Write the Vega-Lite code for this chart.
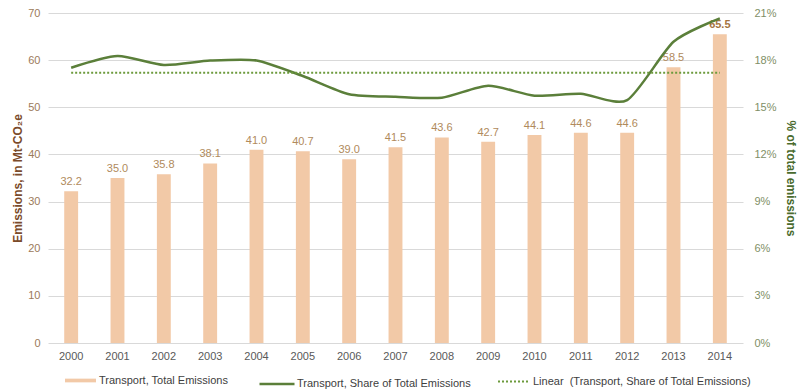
{
  "$schema": "https://vega.github.io/schema/vega-lite/v6.json",
  "width": 695,
  "height": 330,
  "autosize": {"type": "none"},
  "padding": {"left": 48, "right": 57, "top": 13, "bottom": 49},
  "config": {
    "font": "Liberation Sans",
    "view": {"stroke": null},
    "axis": {"labelFont": "Liberation Sans", "titleFont": "Liberation Sans"},
    "legend": {"labelFont": "Liberation Sans", "labelFontSize": 11, "labelColor": "#404040", "padding": 0, "labelLimit": 400}
  },
  "data": {
    "values": [
      {"year": "2000", "emissions": 32.2, "share": 17.52, "trend": 17.2},
      {"year": "2001", "emissions": 35.0, "share": 18.26, "trend": 17.2},
      {"year": "2002", "emissions": 35.8, "share": 17.69, "trend": 17.2},
      {"year": "2003", "emissions": 38.1, "share": 17.97, "trend": 17.2},
      {"year": "2004", "emissions": 41.0, "share": 17.98, "trend": 17.2},
      {"year": "2005", "emissions": 40.7, "share": 16.99, "trend": 17.2},
      {"year": "2006", "emissions": 39.0, "share": 15.83, "trend": 17.2},
      {"year": "2007", "emissions": 41.5, "share": 15.67, "trend": 17.2},
      {"year": "2008", "emissions": 43.6, "share": 15.61, "trend": 17.2},
      {"year": "2009", "emissions": 42.7, "share": 16.37, "trend": 17.2},
      {"year": "2010", "emissions": 44.1, "share": 15.74, "trend": 17.2},
      {"year": "2011", "emissions": 44.6, "share": 15.86, "trend": 17.2},
      {"year": "2012", "emissions": 44.6, "share": 15.46, "trend": 17.2},
      {"year": "2013", "emissions": 58.5, "share": 19.17, "trend": 17.2},
      {"year": "2014", "emissions": 65.5, "share": 20.66, "trend": 17.2}
    ]
  },
  "encoding": {
    "x": {
      "field": "year", "type": "ordinal",
      "scale": {"paddingInner": 0.7, "paddingOuter": 0.35},
      "axis": {"title": null, "labelAngle": 0, "ticks": false, "domain": false, "labelColor": "#595959", "labelFontSize": 11, "labelPadding": 7}
    }
  },
  "layer": [
    {
      "encoding": {
        "y": {
          "field": "emissions", "type": "quantitative",
          "scale": {"domain": [0, 70], "nice": false},
          "axis": {
            "title": "Emissions, in Mt-CO₂e", "titleColor": "#7b4b2a", "titleFontSize": 12, "titleFontWeight": "bold", "titlePadding": 3,
            "values": [0, 10, 20, 30, 40, 50, 60, 70], "ticks": false, "domain": false,
            "labelColor": "#9c7a5a", "labelFontSize": 11, "labelPadding": 8,
            "grid": true, "gridColor": "#d9d9d9", "gridWidth": 1
          }
        }
      },
      "layer": [
        {
          "mark": {"type": "bar", "color": "#f2c9a7"},
          "encoding": {
            "fill": {
              "datum": "Transport, Total Emissions",
              "scale": {"range": ["#f2c9a7"]},
              "legend": {
                "title": null, "orient": "none", "legendX": 17, "legendY": 352,
                "symbolType": "M-1,-0.12H1V0.12H-1Z", "symbolSize": 961, "symbolStrokeWidth": 0, "labelOffset": 3
              }
            }
          }
        },
        {
          "transform": [{"filter": "datum.year != '2014'"}],
          "mark": {"type": "text", "dy": -9, "color": "#b08a5c", "fontSize": 11},
          "encoding": {"text": {"field": "emissions", "type": "quantitative", "format": ".1f"}}
        },
        {
          "transform": [{"filter": "datum.year == '2014'"}],
          "mark": {"type": "text", "dy": -9, "color": "#a5743f", "fontSize": 11, "fontWeight": "bold"},
          "encoding": {"text": {"field": "emissions", "type": "quantitative", "format": ".1f"}}
        }
      ]
    },
    {
      "layer": [
        {
          "mark": {"type": "line", "interpolate": "cardinal", "tension": 0.3, "strokeWidth": 2.5},
          "encoding": {
            "y": {
              "field": "share", "type": "quantitative",
              "scale": {"domain": [0, 21], "nice": false},
              "axis": {
                "orient": "right", "title": "% of total emissions", "titleColor": "#4a6b2e", "titleFontSize": 12, "titleFontWeight": "bold", "titlePadding": 7,
                "values": [0, 3, 6, 9, 12, 15, 18, 21], "labelExpr": "datum.value + '%'",
                "ticks": false, "domain": false, "grid": false,
                "labelColor": "#7f8f66", "labelFontSize": 11, "labelPadding": 11
              }
            },
            "stroke": {
              "datum": "Transport, Share of Total Emissions",
              "scale": {"range": ["#5b7f3a"]},
              "legend": {
                "title": null, "orient": "none", "legendX": 210, "legendY": 352,
                "symbolType": "stroke", "symbolSize": 1225, "symbolStrokeWidth": 2.5, "symbolStrokeColor": "#5b7f3a", "labelOffset": 1
              }
            }
          }
        },
        {
          "mark": {"type": "line", "stroke": "#6c9a3c", "strokeWidth": 2},
          "encoding": {
            "y": {"field": "trend", "type": "quantitative"},
            "strokeDash": {
              "datum": "Linear\u00a0 (Transport, Share of Total Emissions)",
              "scale": {"range": [[2, 2]]},
              "legend": {
                "title": null, "orient": "none", "legendX": 449, "legendY": 352,
                "symbolType": "stroke", "symbolSize": 961, "symbolStrokeWidth": 2, "symbolStrokeColor": "#6c9a3c", "labelOffset": 3
              }
            }
          }
        }
      ]
    }
  ],
  "resolve": {"scale": {"y": "independent", "fill": "independent", "stroke": "independent", "strokeDash": "independent"}}
}
